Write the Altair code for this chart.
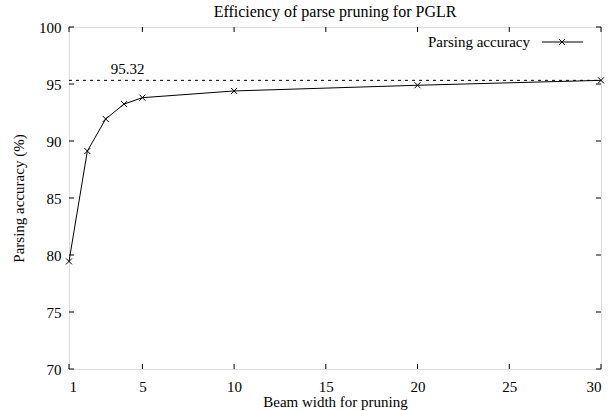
import altair as alt
import pandas as pd

# Data
beam_width = [1, 2, 3, 4, 5, 10, 20, 30]
accuracy = [79.44, 89.12, 91.93, 93.24, 93.80, 94.39, 94.89, 95.32]
best_value = [95.32]
best_label = ["95.32"]
best_label_x = [4.2]
x_ticks = [1, 5, 10, 15, 20, 25, 30]
y_ticks = [70, 75, 80, 85, 90, 95, 100]
series_name = ["Parsing accuracy"]

W, H = 532, 342
FONT = "Times New Roman, Liberation Serif, serif"
FS = 15
TL = 5  # inward tick length

df = pd.DataFrame({"beam": beam_width, "acc": accuracy})
best_df = pd.DataFrame({"v": best_value, "label": best_label, "lx": best_label_x})
xt_df = pd.DataFrame({"t": x_ticks})
yt_df = pd.DataFrame({"t": y_ticks})
leg_df = pd.DataFrame({"name": series_name})

xscale = alt.Scale(domain=[1, 30], nice=False, zero=False)
yscale = alt.Scale(domain=[70, 100], nice=False, zero=False)

x_axis = alt.Axis(values=x_ticks, tickSize=0, grid=False, domain=False,
                  labelFont=FONT, labelFontSize=FS, labelColor="black",
                  labelPadding=10, title="Beam width for pruning",
                  titleFont=FONT, titleFontSize=FS, titleFontWeight="normal",
                  titleColor="black", titlePadding=0)
y_axis = alt.Axis(values=y_ticks, tickSize=0, grid=False, domain=False,
                  labelFont=FONT, labelFontSize=FS, labelColor="black",
                  labelPadding=8, title="Parsing accuracy (%)",
                  titleFont=FONT, titleFontSize=FS, titleFontWeight="normal",
                  titleColor="black", titlePadding=12)

X = alt.X("beam:Q", scale=xscale, axis=x_axis)
Y = alt.Y("acc:Q", scale=yscale, axis=y_axis)

line = alt.Chart(df).mark_line(color="black", strokeWidth=1).encode(x=X, y=Y)

xpath = "M-1,-1L1,1M-1,1L1,-1"
points = alt.Chart(df).mark_point(shape=xpath, size=36, filled=False,
                                  color="black", strokeWidth=1, opacity=1).encode(
    x=alt.X("beam:Q", scale=xscale), y=alt.Y("acc:Q", scale=yscale))

best_rule = alt.Chart(best_df).mark_rule(color="black", strokeWidth=1,
                                         strokeDash=[3, 4]).encode(
    y=alt.Y("v:Q", scale=yscale), x=alt.value(0), x2=alt.value(W))

best_text = alt.Chart(best_df).mark_text(font=FONT, fontSize=FS, color="black",
                                         baseline="bottom", dy=-3).encode(
    x=alt.X("lx:Q", scale=xscale), y=alt.Y("v:Q", scale=yscale), text="label:N")

# inward tick marks on all four sides (gnuplot style)
tick_b = alt.Chart(xt_df).mark_rule(color="black", strokeWidth=1).encode(
    x=alt.X("t:Q", scale=xscale), y=alt.value(H), y2=alt.value(H - TL))
tick_t = alt.Chart(xt_df).mark_rule(color="black", strokeWidth=1).encode(
    x=alt.X("t:Q", scale=xscale), y=alt.value(0), y2=alt.value(TL))
tick_l = alt.Chart(yt_df).mark_rule(color="black", strokeWidth=1).encode(
    y=alt.Y("t:Q", scale=yscale), x=alt.value(0), x2=alt.value(TL))
tick_r = alt.Chart(yt_df).mark_rule(color="black", strokeWidth=1).encode(
    y=alt.Y("t:Q", scale=yscale), x=alt.value(W), x2=alt.value(W - TL))

# key (legend) in the top-right corner, gnuplot style
leg_text = alt.Chart(leg_df).mark_text(font=FONT, fontSize=FS, color="black",
                                       align="right", baseline="middle").encode(
    x=alt.value(461), y=alt.value(15), text="name:N")
leg_line = alt.Chart(leg_df).mark_rule(color="black", strokeWidth=1).encode(
    x=alt.value(473), x2=alt.value(514), y=alt.value(15))
leg_pt = alt.Chart(leg_df).mark_point(shape=xpath, size=36, filled=False,
                                      color="black", strokeWidth=1, opacity=1).encode(
    x=alt.value(493), y=alt.value(15))

chart = alt.layer(
    line, points, best_rule, best_text,
    tick_b, tick_t, tick_l, tick_r,
    leg_text, leg_line, leg_pt,
).properties(
    width=W, height=H,
    title=alt.TitleParams("Efficiency of parse pruning for PGLR", font=FONT,
                          fontSize=16, fontWeight="normal", color="black",
                          anchor="middle", offset=0),
    autosize=alt.AutoSizeParams(type="none"),
    padding={"left": 69, "top": 27, "right": 12, "bottom": 42},
).configure_view(
    stroke="black", strokeWidth=1
).configure(background="white")

chart.save("out.html", embed_options={"renderer": "svg", "actions": False})
